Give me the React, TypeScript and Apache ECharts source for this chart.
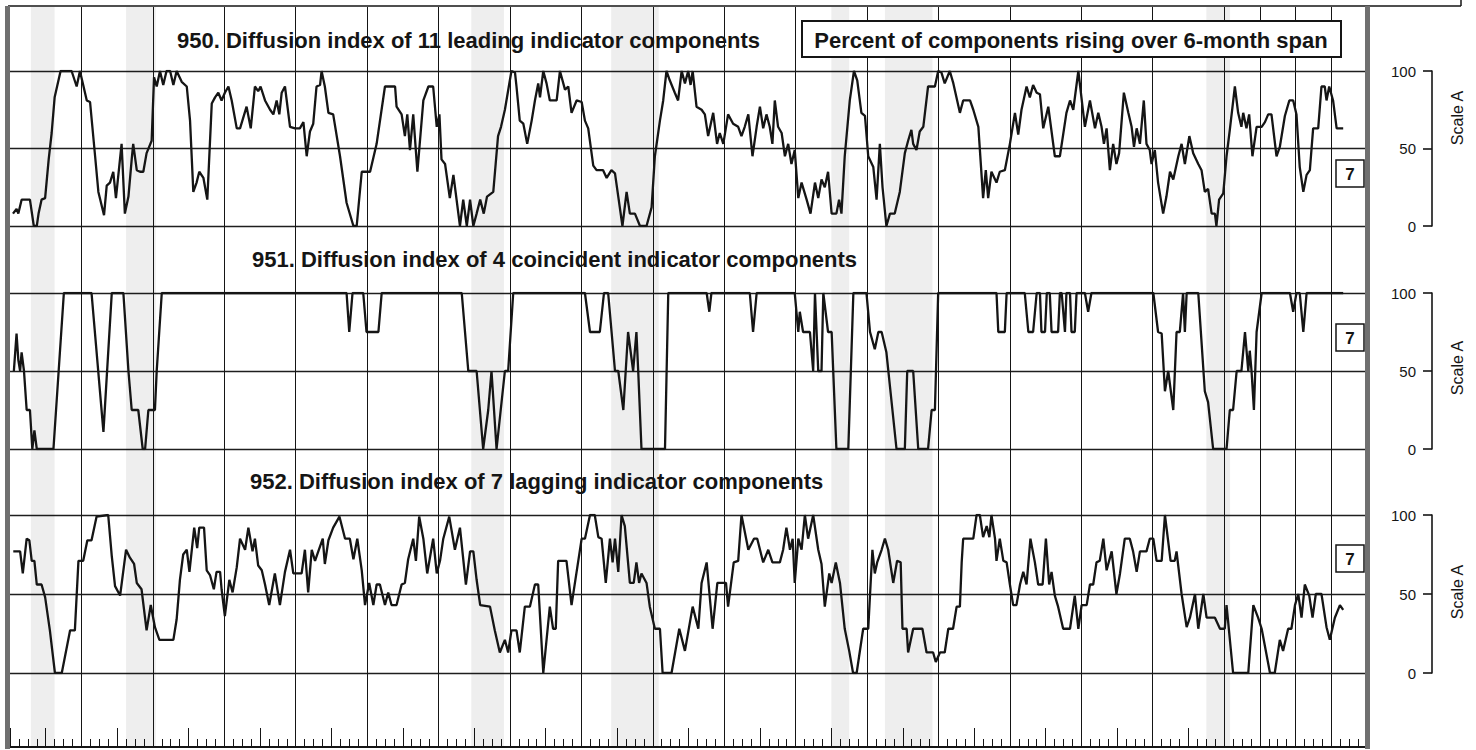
import React, { useEffect, useRef } from "react";
import * as echarts from "echarts";

// x values: months since January 1957 (0 = Jan 1957, 456 = Jan 1995)
const START_YEAR = 1957;
const TOTAL_MONTHS = 456;

const yearGridlines = [1959, 1961, 1963, 1965, 1967, 1969, 1971, 1973, 1975, 1977, 1979, 1981, 1983, 1985, 1987, 1989, 1991, 1992, 1993, 1994];

const recessions: [string, string][] = [
  ["1957-08", "1958-04"],
  ["1960-04", "1961-02"],
  ["1969-12", "1970-11"],
  ["1973-11", "1975-03"],
  ["1980-01", "1980-07"],
  ["1981-07", "1982-11"],
  ["1990-07", "1991-03"],
];

const panelTitles = [
  "950. Diffusion index of 11 leading indicator components",
  "951. Diffusion index of 4 coincident indicator components",
  "952. Diffusion index of 7 lagging indicator components",
];
const spanLabel = "Percent of components rising over 6-month span";
const scaleName = "Scale A";
const panelTag = "7";

// 950. Leading index diffusion ([month offset, percent])
const leading: [number, number][] = [
  [1, 8], [2.2, 11], [2.8, 8], [3.9, 17], [6.7, 17], [8, 0], [9, 0], [9.6, 8], [10.6, 17], [11.8, 18],
  [13, 43], [14, 60], [15, 83], [17, 100], [20.7, 100], [22.4, 90], [23.5, 100], [24.6, 91], [25.8, 81], [26.9, 80],
  [28.6, 45], [29.7, 22], [31.6, 7], [32.5, 26], [33.6, 28], [34.7, 35], [35.6, 18], [37.5, 53], [38.6, 8], [39.8, 19],
  [40.9, 43], [41.4, 53], [42.6, 36], [43.7, 35], [44.8, 35], [45.9, 47], [47.6, 55], [48.4, 96], [49.3, 90], [50.4, 100],
  [51.5, 91], [52.6, 100], [53.8, 100], [54.9, 91], [56, 100], [57.7, 93], [59.4, 90], [60.5, 68], [61.6, 22], [62.7, 28],
  [63.6, 35], [65, 31], [66.3, 17], [67.8, 79], [68.9, 83], [70, 86], [71.1, 81], [72.2, 86], [73.4, 90], [74.5, 81],
  [76.2, 63], [77.3, 63], [79.5, 77], [80.9, 63], [82.3, 90], [83.4, 87], [84.2, 90], [85.7, 81], [87.4, 75], [88.5, 72],
  [89.6, 81], [90.5, 72], [91.3, 86], [92.4, 90], [94.1, 64], [95.8, 63], [97.4, 63], [98.6, 67], [99.7, 45], [100.8, 61],
  [101.9, 66], [103, 90], [104.2, 91], [104.7, 100], [105.8, 90], [107, 73], [108.6, 72], [110.9, 45], [113.1, 15], [115.4, 0],
  [116.5, 0], [118.2, 35], [121, 35], [123.2, 53], [126, 90], [129.4, 90], [129.9, 77], [131.6, 72], [132.7, 58], [133.5, 72],
  [134.4, 49], [135.5, 72], [136.9, 35], [138.9, 81], [140.6, 90], [142.2, 90], [143.4, 64], [144.3, 72], [145, 43], [146.2, 40],
  [147.8, 18], [149, 33], [151.2, 0], [152.3, 17], [153.5, 0], [154.6, 17], [155.7, 0], [156.8, 8], [158, 17], [159.2, 8],
  [160.3, 19], [162.4, 22], [163.2, 40], [164, 58], [165, 64], [166.3, 75], [168.5, 100], [169.7, 99], [170.2, 90], [171.3, 68],
  [172.5, 66], [173.8, 53], [175.3, 68], [176.4, 81], [177.5, 92], [178.1, 83], [179.2, 100], [180.3, 92], [181.4, 81], [183.7, 81],
  [184.8, 100], [186.5, 88], [187.6, 90], [188.7, 73], [190.4, 81], [192.1, 80], [193.2, 68], [194.3, 63], [196, 39], [197.1, 36],
  [199.3, 36], [200.5, 31], [202.1, 36], [203.3, 34], [204.4, 19], [205.8, 0], [207.2, 22], [208.3, 8], [210, 8], [211.7, 0],
  [213.9, 0], [215.6, 12], [216.7, 45], [218.4, 68], [219.5, 81], [220.6, 100], [221.7, 94], [223.4, 86], [224.5, 81], [225.7, 100],
  [226.8, 92], [227.9, 100], [228.7, 91], [229.4, 100], [230.7, 77], [232.4, 75], [233.5, 72], [234.6, 58], [236.3, 73], [237.6, 53],
  [238.5, 60], [239.7, 53], [241.3, 72], [243, 66], [244.7, 64], [245.8, 58], [246.9, 64], [248.1, 72], [249.5, 45], [250.9, 64],
  [252, 77], [253.1, 63], [254.2, 72], [255.3, 64], [256.2, 53], [257, 81], [258.1, 64], [259.3, 60], [260.4, 45], [261.5, 53],
  [262.6, 40], [263.7, 49], [264.9, 18], [266, 28], [267.7, 17], [269, 8], [270.5, 28], [271.6, 18], [272.7, 30], [273.8, 25],
  [274.9, 35], [276.1, 8], [277.7, 8], [278.6, 17], [279.4, 8], [280.5, 45], [282.2, 81], [283.6, 100], [284.7, 94], [286.1, 73],
  [287.3, 71], [288.4, 45], [290.1, 38], [291.2, 17], [292.3, 53], [293.2, 25], [294.5, 0], [295.7, 8], [297.3, 8], [299, 22],
  [300.7, 47], [301.8, 55], [302.9, 62], [303.5, 53], [304.6, 49], [305.7, 61], [306.9, 64], [308.5, 90], [310.8, 90], [311.9, 100],
  [313, 99], [314.1, 92], [315.8, 100], [317, 92], [319.2, 73], [320.3, 81], [322.6, 81], [323.7, 75], [325.4, 64], [327, 18],
  [327.9, 36], [328.7, 18], [329.8, 35], [331.5, 28], [332.6, 35], [334.3, 36], [336, 53], [337.7, 73], [338.8, 59], [339.9, 75],
  [341.6, 90], [342.7, 83], [343.8, 91], [345, 86], [346.1, 85], [347.2, 63], [348.9, 77], [351.1, 45], [352.8, 45], [355, 73],
  [356.2, 81], [357.3, 75], [359, 100], [361.2, 64], [362.9, 81], [364.6, 63], [365.7, 73], [366.8, 64], [367.6, 53], [368.5, 63],
  [369.6, 36], [370.7, 53], [371.8, 40], [372.7, 47], [374.3, 86], [375.8, 73], [376.9, 64], [377.7, 51], [378.6, 63], [379.7, 53],
  [381, 81], [381.9, 53], [383, 49], [383.6, 40], [384.7, 49], [385.8, 28], [387.5, 8], [388.6, 19], [389.8, 35], [390.9, 30],
  [392.6, 45], [393.7, 53], [394.8, 40], [396.3, 58], [397.6, 47], [399.3, 40], [400.4, 36], [401.5, 22], [402.6, 24], [403.8, 8],
  [404.9, 8], [405.4, 0], [406.3, 17], [407.7, 21], [408.8, 45], [409.9, 62], [411.6, 90], [412.7, 73], [413.8, 64], [414.4, 73],
  [415.5, 63], [416.4, 72], [417.5, 45], [418.9, 64], [420.6, 64], [421.7, 67], [422.8, 72], [423.9, 72], [425.6, 45], [426.7, 51],
  [428.4, 71], [429.9, 81], [431.2, 81], [432.3, 72], [433.4, 38], [434.6, 22], [435.7, 33], [436.8, 36], [437.9, 63], [439.6, 63],
  [440.7, 90], [441.8, 90], [442.4, 81], [443.3, 90], [444.6, 81], [445.8, 63], [448, 63],
];

// 951. Coincident index diffusion
const coincident: [number, number][] = [
  [1.3, 50], [2.2, 74], [2.8, 57], [3.4, 50], [3.9, 62], [4.7, 50], [5.6, 25], [6.7, 25], [7.5, 0], [8.2, 12],
  [9, 0], [14.6, 0], [18.1, 100], [27.4, 100], [31.4, 11], [34.2, 100], [38.1, 100], [39.8, 50], [40.9, 25], [43.1, 25],
  [44.6, 0], [45.4, 0], [46.5, 25], [48.7, 25], [49.3, 50], [51, 100], [113.1, 100], [114, 75], [115.1, 100], [118.7, 100],
  [119.8, 75], [123.8, 75], [124.9, 100], [151.8, 100], [154, 50], [156.8, 50], [159, 0], [160.7, 25], [161.8, 50], [163.5, 0],
  [166.3, 50], [167.4, 50], [169.1, 100], [193.2, 100], [194.9, 75], [198.2, 75], [199.6, 100], [201, 100], [203.3, 50], [204.4, 50],
  [206.1, 25], [207.7, 75], [209.4, 50], [210.5, 75], [211.1, 50], [212.2, 0], [220.1, 0], [221.2, 100], [234.1, 100], [235, 88],
  [235.7, 100], [248.6, 100], [249.7, 75], [250.9, 100], [263.7, 100], [264.9, 75], [265.4, 88], [266.5, 75], [268.8, 75], [269.9, 50],
  [270.5, 100], [271.6, 50], [272.7, 50], [273.3, 100], [274.9, 75], [276.1, 75], [277.7, 0], [281.7, 0], [283.4, 100], [287.8, 100],
  [289, 75], [290.6, 64], [291.8, 75], [292.9, 75], [294.5, 62], [297.9, 0], [300.7, 0], [301.5, 50], [303.5, 50], [305.2, 0],
  [308.5, 0], [309.7, 25], [310.8, 25], [311.9, 100], [331.5, 100], [332.1, 75], [334.3, 75], [334.9, 100], [341, 100], [342.2, 75],
  [343.8, 75], [345, 100], [346.1, 100], [346.6, 75], [347.8, 75], [348.4, 100], [349.4, 100], [350, 75], [352.2, 75], [352.8, 100],
  [353.4, 100], [354.5, 75], [355, 100], [356.2, 100], [356.7, 75], [357.8, 75], [358.4, 100], [361.2, 100], [362.3, 88], [363.4, 100],
  [384.2, 100], [385.8, 75], [387, 74], [388.1, 37], [389.2, 50], [390.9, 25], [392, 75], [393.1, 75], [394.2, 100], [394.8, 75],
  [395.4, 100], [399.3, 100], [401.5, 37], [402.6, 30], [404.3, 0], [408.8, 0], [409.9, 25], [411, 25], [412.2, 50], [413.8, 50],
  [415, 75], [416.1, 50], [416.6, 63], [417.2, 50], [418, 25], [418.9, 75], [420.6, 100], [430.1, 100], [431.2, 88], [432.3, 100],
  [433.4, 100], [434.6, 75], [435.7, 100], [448, 100],
];

// 952. Lagging index diffusion
const lagging: [number, number][] = [
  [1.1, 77], [3.4, 77], [4.3, 63], [5.6, 85], [6.5, 84], [7.3, 71], [8.2, 71], [9, 56], [10.6, 56], [11.8, 48],
  [13.4, 27], [15.1, 0], [17.4, 0], [20.2, 27], [21.8, 27], [23, 71], [24.6, 71], [26, 84], [27.4, 84], [29.1, 99],
  [33, 100], [34.2, 74], [35.3, 55], [37, 49], [39, 78], [40.3, 73], [41.7, 69], [42.6, 57], [44.2, 53], [45.9, 27],
  [47.3, 43], [48.7, 29], [50.2, 21], [54.9, 21], [56, 34], [57.1, 59], [58.2, 75], [59.4, 78], [60.3, 64], [61.9, 92],
  [62.9, 79], [63.6, 92], [65.2, 92], [66.1, 65], [67.2, 62], [68.5, 53], [69.4, 64], [70.6, 64], [71.1, 53], [72.2, 36],
  [73.7, 59], [74.8, 51], [76.2, 67], [77.3, 85], [79, 78], [80.1, 92], [81.5, 77], [82.3, 85], [83.4, 68], [84.6, 65],
  [85.7, 56], [87.1, 43], [89, 63], [90.7, 43], [92.4, 64], [94.1, 78], [95.2, 63], [98, 63], [99.1, 78], [100.2, 51],
  [101.4, 78], [102.5, 71], [103.6, 77], [105.1, 85], [105.8, 69], [107, 84], [108.6, 92], [110.7, 99], [112.6, 85], [114.2, 85],
  [115.4, 72], [116.7, 85], [118.2, 65], [119.3, 43], [120.7, 57], [122.1, 43], [123.2, 56], [124.3, 56], [126, 43], [127.1, 51],
  [128.2, 43], [129.9, 43], [131.6, 56], [132.7, 57], [133.8, 72], [135.5, 85], [136.4, 71], [137.5, 99], [138.9, 85], [140.2, 63],
  [142.2, 85], [143.4, 63], [144.5, 71], [145.6, 85], [147.6, 99], [149.5, 78], [151.2, 92], [153.2, 56], [154.6, 77], [155.7, 77],
  [156.8, 59], [158, 43], [161.3, 42], [162.9, 27], [164.6, 13], [166.3, 21], [167.4, 13], [168.5, 27], [170.2, 27], [171.3, 13],
  [173, 42], [174.7, 42], [176.4, 56], [177.5, 56], [179.2, 0], [181.4, 42], [182.5, 28], [183.4, 28], [184.2, 71], [187, 71],
  [188.7, 43], [192.1, 85], [193.2, 85], [194.9, 100], [196.5, 100], [197.7, 86], [198.8, 85], [200.2, 57], [201.6, 85], [202.5, 70],
  [203.3, 85], [204.4, 64], [205.5, 100], [206.6, 93], [208.3, 57], [209.6, 57], [210.5, 70], [211.4, 57], [212.2, 63], [213.9, 57],
  [215, 42], [216.7, 28], [218.4, 28], [219.3, 0], [222.3, 0], [224.9, 28], [226.8, 14], [229.4, 42], [231.3, 28], [232.4, 57],
  [234.1, 70], [236.1, 28], [237.7, 57], [240.6, 57], [241.3, 42], [243.2, 70], [244.7, 71], [245.8, 100], [248.1, 78], [250, 85],
  [251.1, 85], [253.1, 70], [254.8, 78], [256.2, 70], [258.7, 70], [259.8, 78], [260.9, 92], [262.1, 78], [263, 85], [263.7, 57],
  [264.9, 85], [266, 78], [267.1, 100], [268.2, 85], [269.9, 100], [271.6, 78], [272.7, 69], [273.8, 42], [275.3, 63], [276.1, 57],
  [277.5, 70], [278.9, 57], [280.5, 28], [282, 14], [283.3, 0], [284.5, 0], [286.7, 28], [288.4, 28], [289.8, 78], [290.6, 63],
  [291.4, 70], [292.9, 78], [294, 85], [295.1, 78], [296.8, 57], [298.1, 71], [299.3, 70], [299.9, 28], [301.3, 28], [301.8, 13],
  [303.5, 28], [306.6, 28], [308, 13], [310.2, 13], [311.1, 7], [312.5, 13], [314.1, 13], [315.3, 28], [316.9, 28], [318.1, 42],
  [319.2, 42], [319.8, 70], [320.3, 85], [323.7, 85], [324.8, 100], [325.9, 100], [327, 86], [328.2, 93], [329.1, 86], [329.8, 100],
  [331, 85], [331.5, 71], [332.6, 85], [333.8, 71], [334.9, 70], [336, 56], [337.1, 43], [338.2, 43], [339.4, 56], [340.5, 64],
  [341.6, 56], [342.9, 85], [344.4, 70], [345.5, 56], [347, 56], [348.1, 85], [349.2, 56], [350, 64], [351.1, 49], [352.2, 42],
  [353.9, 28], [356.2, 28], [357.8, 49], [359, 28], [360.1, 43], [361.8, 43], [362.9, 56], [364, 56], [365.1, 70], [366.2, 71],
  [367.4, 85], [368.5, 65], [370.2, 77], [371.8, 50], [373, 63], [374.6, 85], [376.3, 85], [377.4, 77], [378.6, 64], [379.7, 77],
  [381.9, 77], [383, 85], [384.2, 85], [385.3, 71], [387, 71], [388.1, 100], [390, 71], [391.4, 71], [392, 77], [393.7, 50],
  [395.4, 29], [396.5, 35], [398.2, 50], [399.3, 28], [401, 50], [402.1, 35], [404.9, 35], [406.6, 28], [408.2, 28], [408.8, 43],
  [411, 0], [416.1, 0], [417.8, 43], [419.4, 35], [420.6, 28], [423.4, 0], [425, 0], [426.7, 21], [427.8, 14], [429.5, 28],
  [430.6, 28], [431.8, 43], [432.9, 50], [434, 35], [435.1, 56], [436.6, 49], [437.7, 35], [438.8, 50], [440.7, 50], [442.4, 29],
  [443.5, 21], [445.2, 35], [446.9, 43], [448, 40],
];

const panelSeries = [leading, coincident, lagging];

const toMonth = (s: string) => {
  const [y, m] = s.split("-").map(Number);
  return (y - START_YEAR) * 12 + (m - 1);
};

const FONT = '"Liberation Sans", Arial, Helvetica, sans-serif';
const INK = "#151515";

// layout (pixels)
const PLOT_LEFT = 10;
const PLOT_RIGHT = 1367;
const PANELS = [
  { top: 71, height: 155, titleX: 177, titleY: 40, tagY: 160, scaleY: 118 },
  { top: 293, height: 156, titleX: 252, titleY: 259, tagY: 324, scaleY: 368 },
  { top: 515, height: 158, titleX: 250, titleY: 481, tagY: 545, scaleY: 592 },
];

export default function App() {
  const ref = useRef<HTMLDivElement>(null);

  useEffect(() => {
    if (!ref.current) return;
    const chart = echarts.init(ref.current, undefined, { renderer: "svg" });
    const right = 1476 - PLOT_RIGHT;

    const grids: any[] = [{ left: PLOT_LEFT, right, top: 7, bottom: 3 }];
    PANELS.forEach((p) => grids.push({ left: PLOT_LEFT, right, top: p.top, height: p.height }));

    const xAxes: any[] = [
      {
        type: "value", gridIndex: 0, min: 0, max: TOTAL_MONTHS, interval: 3, position: "bottom",
        axisLine: { show: true, onZero: false, lineStyle: { color: INK, width: 2 } },
        axisTick: { show: true, inside: true, length: 8, lineStyle: { color: INK, width: 1 } },
        axisLabel: { show: false }, splitLine: { show: false },
      },
      {
        type: "value", gridIndex: 0, min: 0, max: TOTAL_MONTHS, interval: 12, position: "bottom",
        axisLine: { show: false, onZero: false },
        axisTick: { show: true, inside: true, length: 19, lineStyle: { color: INK, width: 1 } },
        axisLabel: { show: false }, splitLine: { show: false },
      },
    ];
    const yAxes: any[] = [{ type: "value", gridIndex: 0, min: 0, max: 1, show: false }];
    PANELS.forEach((_, i) => {
      xAxes.push({ type: "value", gridIndex: i + 1, min: 0, max: TOTAL_MONTHS, show: false });
      yAxes.push({
        type: "value", gridIndex: i + 1, min: 0, max: 100, interval: 50, position: "right", offset: 65,
        axisLine: { show: true, onZero: false, lineStyle: { color: INK, width: 1.6 } },
        axisTick: { show: true, inside: true, length: 9, lineStyle: { color: INK, width: 1.6 } },
        axisLabel: { show: true, inside: true, margin: 16, fontSize: 15, fontFamily: FONT, color: INK },
        splitLine: { show: true, lineStyle: { color: "#1e1e1e", width: 1.3 } },
      });
    });

    const series: any[] = [
      {
        type: "line", xAxisIndex: 0, yAxisIndex: 0, data: [], silent: true,
        markArea: {
          silent: true,
          itemStyle: { color: "rgba(0,0,0,0.065)" },
          data: recessions.map(([a, b]) => [{ xAxis: toMonth(a) }, { xAxis: toMonth(b) }]),
        },
        markLine: {
          silent: true, symbol: ["none", "none"], label: { show: false },
          lineStyle: { color: INK, width: 1, type: "solid" },
          data: yearGridlines.map((y) => ({ xAxis: (y - START_YEAR) * 12 })),
        },
      },
    ];
    panelSeries.forEach((d, i) => {
      series.push({
        type: "line", xAxisIndex: i + 2, yAxisIndex: i + 1, data: d, showSymbol: false,
        lineStyle: { color: INK, width: 2.3 }, silent: true,
      });
    });

    const graphic: any[] = [
      { type: "line", z: 100, shape: { x1: 8, y1: 6, x2: 1461, y2: 6 }, style: { stroke: INK, lineWidth: 1.5 } },
      { type: "line", z: 100, shape: { x1: 1461, y1: 0, x2: 1461, y2: 6 }, style: { stroke: INK, lineWidth: 1.5 } },
      { type: "rect", z: 100, shape: { x: 5, y: 6, width: 5, height: 743 }, style: { fill: "#707070" } },
      { type: "rect", z: 100, shape: { x: 1365, y: 6, width: 5, height: 743 }, style: { fill: "#707070" } },
      { type: "rect", z: 100, shape: { x: 802, y: 21, width: 539, height: 36 }, style: { fill: "#fff", stroke: INK, lineWidth: 2 } },
      {
        type: "text", z: 101, x: 1071, y: 40,
        style: { text: spanLabel, font: `bold 22px ${FONT}`, fill: INK, textAlign: "center", textVerticalAlign: "middle" },
      },
    ];
    PANELS.forEach((p, i) => {
      graphic.push({
        type: "text", z: 101, x: p.titleX, y: p.titleY,
        style: { text: panelTitles[i], font: `bold 22px ${FONT}`, fill: INK, textAlign: "left", textVerticalAlign: "middle" },
      });
      graphic.push({
        type: "rect", z: 100, shape: { x: 1336, y: p.tagY, width: 28, height: 27 },
        style: { fill: "#fff", stroke: INK, lineWidth: 1.5 },
      });
      graphic.push({
        type: "text", z: 101, x: 1350, y: p.tagY + 14,
        style: { text: panelTag, font: `bold 17px ${FONT}`, fill: INK, textAlign: "center", textVerticalAlign: "middle" },
      });
      graphic.push({
        type: "text", z: 101, x: 1457, y: p.scaleY, rotation: Math.PI / 2,
        style: { text: scaleName, font: `16px ${FONT}`, fill: INK, textAlign: "center", textVerticalAlign: "middle" },
      });
    });

    chart.setOption({
      animation: false,
      backgroundColor: "#ffffff",
      grid: grids,
      xAxis: xAxes,
      yAxis: yAxes,
      series,
      graphic,
    });
    return () => chart.dispose();
  }, []);

  return <div ref={ref} style={{ position: "fixed", left: 0, top: 0, width: 1476, height: 750 }} />;
}
